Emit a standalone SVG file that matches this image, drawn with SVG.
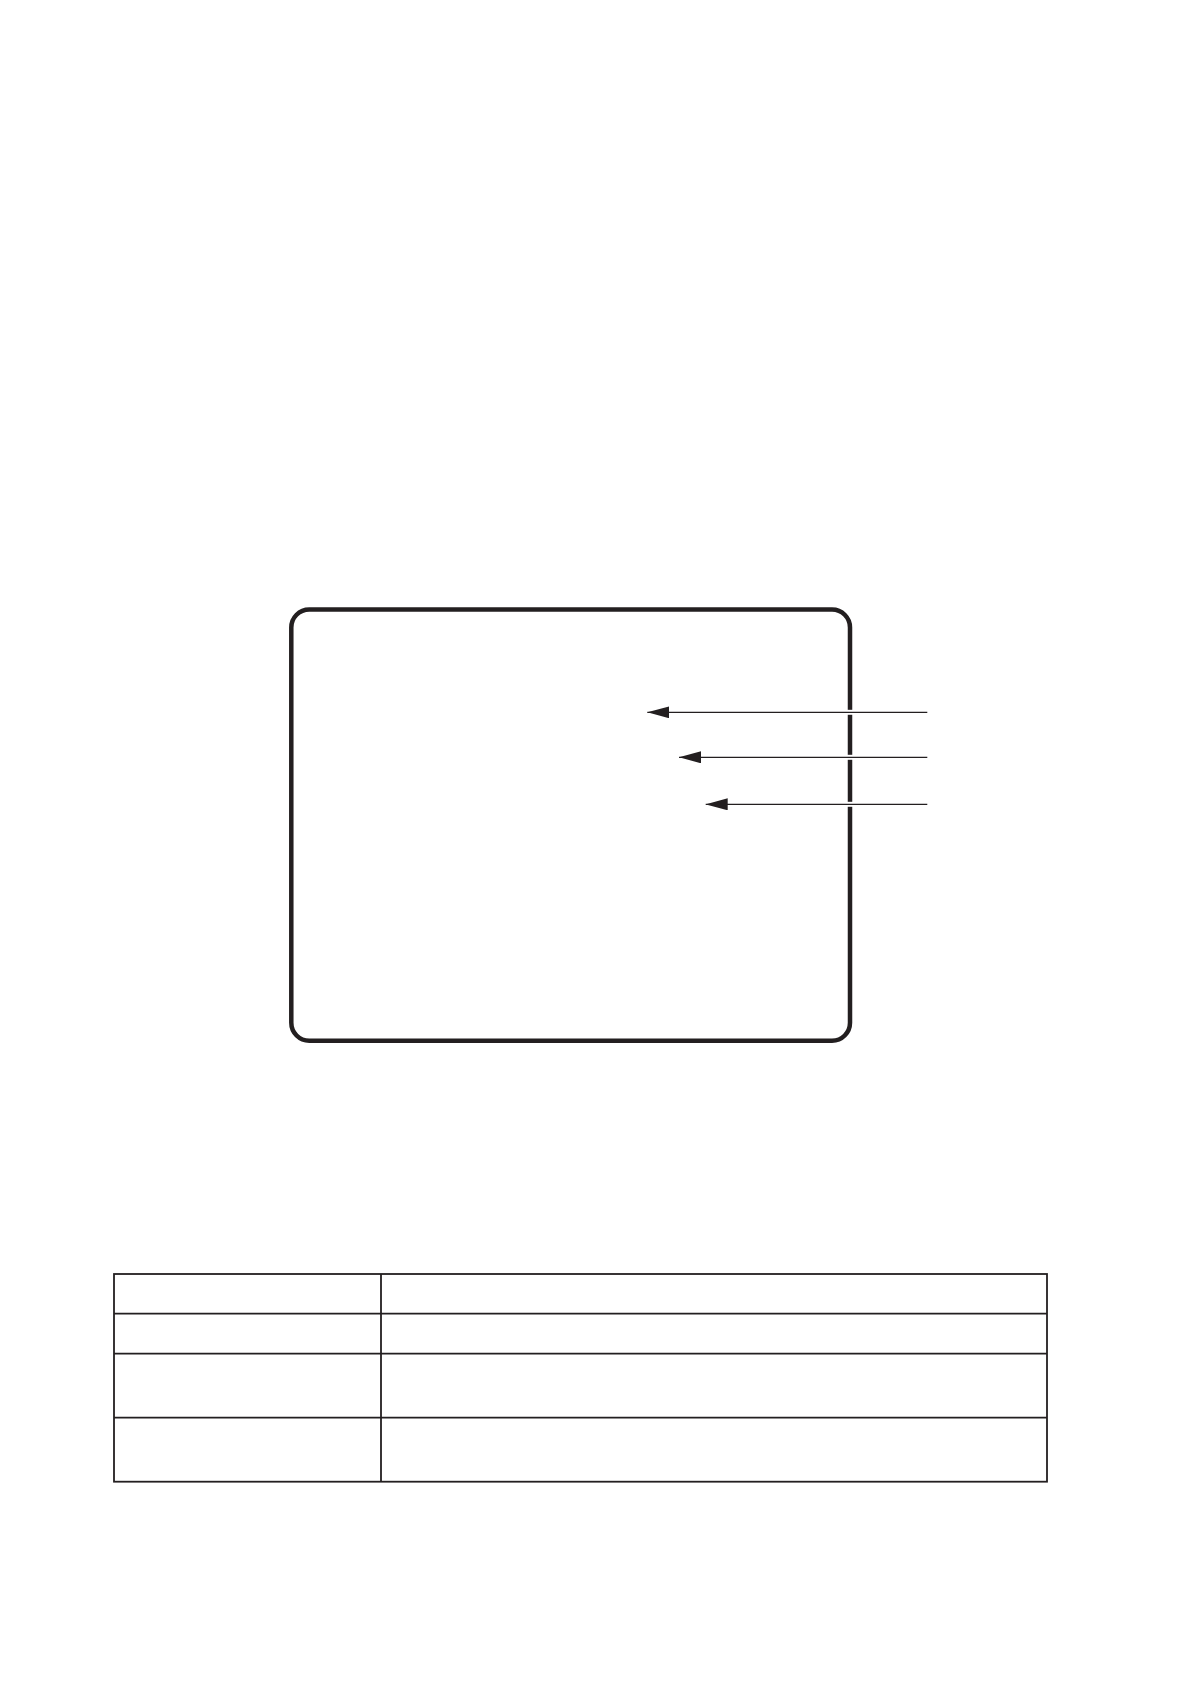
<svg xmlns="http://www.w3.org/2000/svg" width="1191" height="1684" viewBox="0 0 1191 1684">
<style>
.frame{fill:none;stroke:#231f20;stroke-width:4.5}
.halo{stroke:#fff;stroke-width:5;fill:none}
.lead{stroke:#231f20;stroke-width:1.3;fill:none}
.cell{fill:none;stroke:#231f20;stroke-width:1.8}
</style>
<defs>
<marker id="ah" markerWidth="22" markerHeight="12" refX="22" refY="6" orient="auto" markerUnits="userSpaceOnUse">
<path d="M0,0 L22,6 L0,12 Z" fill="#231f20"/>
</marker>
</defs>
<rect width="1191" height="1684" fill="#fff"/>
<g id="screen">
<rect class="frame" x="291.3" y="609.5" width="558.7" height="431.3" rx="18" ry="18"/>
</g>
<g id="connectors">
<line class="halo" x1="840" y1="712.3" x2="860" y2="712.3"/>
<line class="halo" x1="840" y1="757.3" x2="860" y2="757.3"/>
<line class="halo" x1="840" y1="804.3" x2="860" y2="804.3"/>
<line class="lead" x1="927.3" y1="712.3" x2="647.3" y2="712.3" marker-end="url(#ah)"/>
<line class="lead" x1="927.3" y1="757.3" x2="679" y2="757.3" marker-end="url(#ah)"/>
<line class="lead" x1="927.3" y1="804.3" x2="705.7" y2="804.3" marker-end="url(#ah)"/>
</g>
<g id="table">
<rect class="cell" x="114" y="1274" width="933" height="207.7"/>
<line class="cell" x1="114" y1="1313.7" x2="1047" y2="1313.7"/>
<line class="cell" x1="114" y1="1353.7" x2="1047" y2="1353.7"/>
<line class="cell" x1="114" y1="1417.7" x2="1047" y2="1417.7"/>
<line class="cell" x1="381" y1="1274" x2="381" y2="1481.7"/>
</g>
</svg>
